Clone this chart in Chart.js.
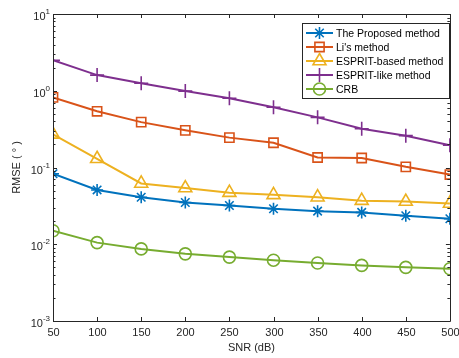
<!DOCTYPE html>
<html lang="en">
<head>
    <meta charset="UTF-8">
    <title>RMSE vs SNR</title>
    <style>
        body { margin: 0; background: #fff; }
        #chart-container { width: 459px; height: 358px; }
    </style>
</head>
<body>
    <div id="chart-container">
        <canvas id="chart" width="459" height="358"></canvas>
    </div>

    <script src="https://cdn.jsdelivr.net/npm/chart.js"></script>
    <script>
        // data
        const snr = [50, 100, 150, 200, 250, 300, 350, 400, 450, 500];
        const proposed = [0.083, 0.051, 0.041, 0.035, 0.032, 0.029, 0.027, 0.026, 0.0235, 0.0215];
        const liMethod = [0.82, 0.54, 0.39, 0.305, 0.245, 0.21, 0.135, 0.133, 0.102, 0.081];
        const espritBased = [0.27, 0.13, 0.062, 0.054, 0.047, 0.044, 0.041, 0.037, 0.036, 0.034];
        const espritLike = [2.5, 1.6, 1.25, 0.99, 0.8, 0.61, 0.45, 0.32, 0.26, 0.195];
        const crb = [0.015, 0.0105, 0.0087, 0.0075, 0.0068, 0.0062, 0.0057, 0.0053, 0.005, 0.0048];
        const seriesNames = ['The Proposed method', "Li's method", 'ESPRIT-based method', 'ESPRIT-like method', 'CRB'];
        const xTicks = [50, 100, 150, 200, 250, 300, 350, 400, 450, 500];
        const yExponents = [-3, -2, -1, 0, 1];

        const FONT = 'Liberation Sans, Arial, sans-serif';

        function series(label, values, color, style, radius) {
            return {
                label: label,
                data: values.map((v, i) => ({ x: snr[i], y: v })),
                borderColor: color,
                backgroundColor: color,
                pointStyle: style,
                pointRadius: radius,
                pointBorderWidth: 1.6,
                pointBackgroundColor: 'rgba(0,0,0,0)',
                borderWidth: 2,
                tension: 0
            };
        }

        const datasets = [
            series(seriesNames[0], proposed, '#0072BD', 'star', 6),
            series(seriesNames[1], liMethod, '#D95319', 'rect', 6.5),
            series(seriesNames[2], espritBased, '#EDB120', 'triangle', 7.5),
            series(seriesNames[3], espritLike, '#7E2F8E', 'cross', 7),
            series(seriesNames[4], crb, '#77AC30', 'circle', 6)
        ];

        // axes box, inward ticks, tick labels, titles and legend drawn MATLAB-style
        const matlabAxes = {
            id: 'matlabAxes',
            afterDraw(chart) {
                const ctx = chart.ctx;
                const a = chart.chartArea;
                const xs = chart.scales.x, ys = chart.scales.y;
                ctx.save();
                ctx.strokeStyle = '#262626';
                ctx.lineWidth = 1;
                ctx.beginPath();
                ctx.rect(Math.round(a.left) + 0.5, Math.round(a.top) + 0.5,
                    Math.round(a.right - a.left), Math.round(a.bottom - a.top));
                ctx.stroke();

                // x ticks
                ctx.fillStyle = '#262626';
                ctx.font = '11px ' + FONT;
                ctx.textAlign = 'center';
                ctx.textBaseline = 'top';
                xTicks.forEach(t => {
                    const px = Math.round(xs.getPixelForValue(t)) + 0.5;
                    ctx.beginPath();
                    ctx.moveTo(px, a.bottom); ctx.lineTo(px, a.bottom - 4);
                    ctx.moveTo(px, a.top); ctx.lineTo(px, a.top + 4);
                    ctx.stroke();
                    ctx.fillText(String(t), px, a.bottom + 6);
                });

                // y ticks (log)
                for (let e = yExponents[0]; e < yExponents[yExponents.length - 1]; e++) {
                    for (let m = 2; m <= 9; m++) {
                        const py = Math.round(ys.getPixelForValue(m * Math.pow(10, e))) + 0.5;
                        ctx.beginPath();
                        ctx.moveTo(a.left, py); ctx.lineTo(a.left + 2.5, py);
                        ctx.moveTo(a.right, py); ctx.lineTo(a.right - 2.5, py);
                        ctx.stroke();
                    }
                }
                yExponents.forEach(e => {
                    const py = Math.round(ys.getPixelForValue(Math.pow(10, e))) + 0.5;
                    ctx.beginPath();
                    ctx.moveTo(a.left, py); ctx.lineTo(a.left + 4, py);
                    ctx.moveTo(a.right, py); ctx.lineTo(a.right - 4, py);
                    ctx.stroke();
                    ctx.font = '8px ' + FONT;
                    ctx.textAlign = 'right';
                    ctx.textBaseline = 'alphabetic';
                    const expStr = String(e);
                    const expW = ctx.measureText(expStr).width;
                    ctx.fillText(expStr, a.left - 3, py - 1);
                    ctx.font = '11px ' + FONT;
                    ctx.fillText('10', a.left - 3 - expW, py + 5);
                });

                // axis titles
                ctx.font = '11px ' + FONT;
                ctx.textAlign = 'center';
                ctx.textBaseline = 'alphabetic';
                ctx.fillText('SNR (dB)', (a.left + a.right) / 2, 351);
                ctx.save();
                ctx.translate(20, (a.top + a.bottom) / 2);
                ctx.rotate(-Math.PI / 2);
                ctx.fillText('RMSE ( \u00B0 )', 0, 0);
                ctx.restore();

                // legend
                const lx = 302, ly = 23, lw = 147, lh = 75;
                ctx.fillStyle = '#fff';
                ctx.fillRect(lx, ly, lw, lh);
                ctx.strokeStyle = '#262626';
                ctx.lineWidth = 1;
                ctx.strokeRect(lx + 0.5, ly + 0.5, lw, lh);
                chart.data.datasets.forEach((ds, i) => {
                    const ry = ly + 10 + i * 14;
                    ctx.strokeStyle = ds.borderColor;
                    ctx.lineWidth = 2;
                    ctx.beginPath();
                    ctx.moveTo(lx + 4, ry); ctx.lineTo(lx + 31, ry);
                    ctx.stroke();
                    ctx.lineWidth = 1.6;
                    ctx.fillStyle = 'rgba(0,0,0,0)';
                    Chart.helpers.drawPoint(ctx, {
                        pointStyle: ds.pointStyle,
                        radius: ds.pointRadius,
                        borderWidth: 1.6,
                        rotation: 0
                    }, lx + 17.5, ry);
                    ctx.fillStyle = '#000';
                    ctx.font = '10.5px ' + FONT;
                    ctx.textAlign = 'left';
                    ctx.textBaseline = 'middle';
                    ctx.fillText(ds.label, lx + 34, ry + 1);
                });
                ctx.restore();
            }
        };

        const ctx = document.getElementById('chart').getContext('2d');
        const rmseChart = new Chart(ctx, {
            type: 'line',
            data: { datasets: datasets },
            options: {
                responsive: false,
                animation: false,
                layout: { padding: { left: 45, right: 5, top: 14, bottom: 29 } },
                plugins: {
                    legend: { display: false },
                    tooltip: { enabled: false }
                },
                scales: {
                    x: {
                        type: 'linear',
                        min: 50,
                        max: 500,
                        grid: { display: false },
                        border: { display: false },
                        ticks: { display: false }
                    },
                    y: {
                        type: 'logarithmic',
                        min: 0.001,
                        max: 10,
                        grid: { display: false },
                        border: { display: false },
                        ticks: { display: false }
                    }
                }
            },
            plugins: [matlabAxes]
        });
    </script>
</body>
</html>
